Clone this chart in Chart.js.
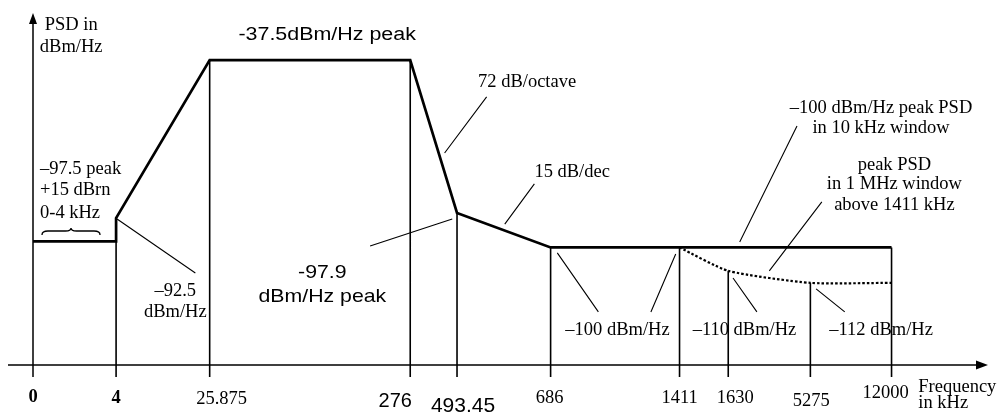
<!DOCTYPE html>
<html>
<head>
<meta charset="utf-8">
<script src="https://cdn.jsdelivr.net/npm/chart.js@4.4.1/dist/chart.umd.min.js"></script>
<style>
  html, body { margin: 0; padding: 0; background: #fff; }
  #wrap { width: 1001px; height: 414px; }
</style>
</head>
<body>
<div id="wrap"><canvas id="psdChart" width="1001" height="414"></canvas></div>
<script>
// frequency ticks (kHz) and where each sits on the schematic (non-proportional) axis, 0..100
const freqLabels = ['0', '4', '25.875', '276', '493.45', '686', '1411', '1630', '5275', '12000'];
const freqPos = [0, 8.7, 18.5, 39.5, 44.4, 54.2, 67.7, 72.8, 81.4, 89.9];

// PSD mask, dBm/Hz as drawn
const maskFreq = ['0', '4', '4', '25.875', '276', '493.45', '686', '12000'];
const maskLevel = [-98, -98, -90.2, -37.5, -37.5, -88.5, -100, -100];

// peak PSD in 1 MHz window above 1411 kHz (dotted)
const windowFreq = ['1411', '1630', '5275', '12000'];
const windowLevel = [-100, -107.8, -111.8, -111.8];

// level where each vertical marker line starts
const dropLevel = [null, -98, -37.5, -37.5, -88.5, -100, -100, -107.8, -111.8, -100];

const yTop = -21.8, yBottom = -143.2, axisLevel = -139.2;

const posOf = f => freqPos[freqLabels.indexOf(f)];

const maskData = maskFreq.map((f, i) => ({ x: posOf(f), y: maskLevel[i] }));
const windowData = windowFreq.map((f, i) => ({ x: posOf(f), y: windowLevel[i] }));
const dropData = [];
freqLabels.forEach((f, i) => {
    if (dropLevel[i] === null) return;
    dropData.push({ x: freqPos[i], y: dropLevel[i] });
    dropData.push({ x: freqPos[i], y: yBottom });
    dropData.push({ x: freqPos[i], y: null });
});

const SERIF = '"Liberation Serif", "Times New Roman", serif';
const SANS = '"Liberation Sans", Arial, sans-serif';

// per tick label look (offsets in px from the tick)
const tickStyle = [
    { font: 'bold 18.5px ' + SERIF, dx: 0, dy: 37 },
    { font: 'bold 18.5px ' + SERIF, dx: 0, dy: 38 },
    { font: '18.5px ' + SERIF, dx: 12, dy: 39 },
    { font: '20px ' + SANS, dx: -15, dy: 42 },
    { font: '21px ' + SANS, dx: 6, dy: 47 },
    { font: '18.5px ' + SERIF, dx: -1, dy: 38 },
    { font: '18.5px ' + SERIF, dx: 0, dy: 38 },
    { font: '18.5px ' + SERIF, dx: 7, dy: 38 },
    { font: '18.5px ' + SERIF, dx: 1, dy: 41 },
    { font: '18.5px ' + SERIF, dx: -6, dy: 33 }
];

// text notes, placed in chart units
const notes = [
    { t: 'PSD in', x: 4.0, y: -27.5, f: SERIF, a: 'center' },
    { t: 'dBm/Hz', x: 4.0, y: -34.8, f: SERIF, a: 'center' },
    { t: '-37.5dBm/Hz peak', x: 30.8, y: -30.8, f: SANS, s: 18, a: 'center', sx: 1.19 },
    { t: '72 dB/octave', x: 46.6, y: -46.5, f: SERIF, a: 'left' },
    { t: '15 dB/dec', x: 52.5, y: -76.5, f: SERIF, a: 'left' },
    { t: '\u2013100 dBm/Hz peak PSD', x: 88.8, y: -55.2, f: SERIF, a: 'center' },
    { t: 'in 10 kHz window', x: 88.8, y: -61.8, f: SERIF, a: 'center' },
    { t: 'peak PSD', x: 90.2, y: -74.2, f: SERIF, a: 'center' },
    { t: 'in 1 MHz window', x: 90.2, y: -80.5, f: SERIF, a: 'center' },
    { t: 'above 1411 kHz', x: 90.2, y: -87.5, f: SERIF, a: 'center' },
    { t: '\u201397.5 peak', x: 0.73, y: -75.5, f: SERIF, a: 'left' },
    { t: '+15 dBrn', x: 0.73, y: -82.5, f: SERIF, a: 'left' },
    { t: '0-4 kHz', x: 0.73, y: -90.2, f: SERIF, a: 'left' },
    { t: '\u201392.5', x: 14.9, y: -116.2, f: SERIF, a: 'center' },
    { t: 'dBm/Hz', x: 14.9, y: -123.2, f: SERIF, a: 'center' },
    { t: '-97.9', x: 30.3, y: -110.2, f: SANS, s: 19, a: 'center', sx: 1.12 },
    { t: 'dBm/Hz peak', x: 30.3, y: -118.2, f: SANS, s: 19, a: 'center', sx: 1.12 },
    { t: '\u2013100 dBm/Hz', x: 61.2, y: -129.2, f: SERIF, a: 'center' },
    { t: '\u2013110 dBm/Hz', x: 74.5, y: -129.2, f: SERIF, a: 'center' },
    { t: '\u2013112 dBm/Hz', x: 88.8, y: -129.2, f: SERIF, a: 'center' },
    { t: 'Frequency', x: 92.7, y: -148.2, f: SERIF, a: 'left' },
    { t: 'in kHz', x: 92.7, y: -153.5, f: SERIF, a: 'left' }
];

// leader lines from notes to the curve
const leaders = [
    [8.8, -90.5, 17.0, -108.5],
    [35.3, -99.5, 43.9, -90.5],
    [43.1, -68.5, 47.5, -49.8],
    [49.4, -92.2, 52.5, -78.8],
    [54.9, -101.8, 59.2, -121.5],
    [67.3, -102.2, 64.7, -121.5],
    [73.3, -110.2, 75.8, -121.5],
    [82.0, -113.8, 85.0, -121.5],
    [74.0, -98.2, 80.0, -59.5],
    [77.1, -107.8, 82.6, -84.8]
];

function drawText(ctx, t, px, py, font, align, sx) {
    ctx.save();
    ctx.font = font;
    ctx.textAlign = align;
    ctx.textBaseline = 'alphabetic';
    ctx.translate(px, py);
    ctx.scale(sx || 1, 1);
    ctx.fillText(t, 0, 0);
    ctx.restore();
}

const overlay = {
    id: 'overlay',
    afterDatasetsDraw(chart) {
        const { ctx, chartArea, scales: { x, y } } = chart;
        const P = (u, v) => [x.getPixelForValue(u), y.getPixelForValue(v)];
        const [ox, oy] = P(0, axisLevel);

        ctx.save();
        ctx.strokeStyle = '#000';
        ctx.fillStyle = '#000';

        // axes with arrow heads
        ctx.lineWidth = 1.5;
        ctx.beginPath();
        ctx.moveTo(ox, chartArea.bottom);
        ctx.lineTo(ox, chartArea.top + 8);
        ctx.moveTo(chartArea.left, oy);
        ctx.lineTo(chartArea.right - 8, oy);
        ctx.stroke();
        ctx.beginPath();
        ctx.moveTo(ox, chartArea.top);
        ctx.lineTo(ox - 4, chartArea.top + 11);
        ctx.lineTo(ox + 4, chartArea.top + 11);
        ctx.closePath();
        ctx.fill();
        ctx.beginPath();
        ctx.moveTo(chartArea.right, oy);
        ctx.lineTo(chartArea.right - 12, oy - 4.5);
        ctx.lineTo(chartArea.right - 12, oy + 4.5);
        ctx.closePath();
        ctx.fill();

        // tick labels
        freqLabels.forEach((lab, i) => {
            const st = tickStyle[i];
            drawText(ctx, lab, x.getPixelForValue(freqPos[i]) + st.dx, oy + st.dy, st.font, 'center');
        });

        // leader lines
        ctx.lineWidth = 1.1;
        ctx.beginPath();
        leaders.forEach(l => {
            const a = P(l[0], l[1]), b = P(l[2], l[3]);
            ctx.moveTo(a[0], a[1]);
            ctx.lineTo(b[0], b[1]);
        });
        ctx.stroke();

        // brace under the 0-4 kHz note
        const b = [
            P(0.94, -95.8), P(0.94, -94.5), P(1.57, -94.5), P(3.4, -94.5),
            P(3.98, -94.5), P(3.98, -93.5), P(3.98, -94.5), P(4.56, -94.5),
            P(6.39, -94.5), P(7.02, -94.5), P(7.02, -95.8)
        ];
        ctx.lineWidth = 1.3;
        ctx.beginPath();
        ctx.moveTo(b[0][0], b[0][1]);
        ctx.quadraticCurveTo(b[1][0], b[1][1], b[2][0], b[2][1]);
        ctx.lineTo(b[3][0], b[3][1]);
        ctx.quadraticCurveTo(b[4][0], b[4][1], b[5][0], b[5][1]);
        ctx.quadraticCurveTo(b[6][0], b[6][1], b[7][0], b[7][1]);
        ctx.lineTo(b[8][0], b[8][1]);
        ctx.quadraticCurveTo(b[9][0], b[9][1], b[10][0], b[10][1]);
        ctx.stroke();

        // notes
        notes.forEach(n => {
            const [px, py] = P(n.x, n.y);
            drawText(ctx, n.t, px, py, (n.s || 18.5) + 'px ' + n.f, n.a, n.sx);
        });

        ctx.restore();
    }
};

new Chart(document.getElementById('psdChart'), {
    type: 'line',
    data: {
        datasets: [
            {
                label: 'PSD mask',
                data: maskData,
                borderColor: '#000',
                borderWidth: 2.7,
                borderJoinStyle: 'miter',
                pointRadius: 0,
                fill: false,
                tension: 0,
                order: 1,
                clip: false
            },
            {
                label: 'Peak PSD in 1 MHz window',
                data: windowData,
                borderColor: '#000',
                borderWidth: 2.2,
                borderDash: [2.5, 2],
                pointRadius: 0,
                fill: false,
                tension: 0.2,
                order: 2,
                clip: false
            },
            {
                label: 'markers',
                data: dropData,
                borderColor: '#000',
                borderWidth: 1.6,
                pointRadius: 0,
                spanGaps: false,
                fill: false,
                order: 3,
                clip: false
            }
        ]
    },
    options: {
        responsive: false,
        animation: false,
        devicePixelRatio: 1,
        layout: { padding: { left: 8, right: 13, top: 13, bottom: 37 } },
        plugins: {
            legend: { display: false },
            tooltip: { enabled: false }
        },
        scales: {
            x: { type: 'linear', min: -2.618, max: 100, display: false },
            y: { type: 'linear', min: yBottom, max: yTop, display: false }
        }
    },
    plugins: [overlay]
});
</script>
</body>
</html>
